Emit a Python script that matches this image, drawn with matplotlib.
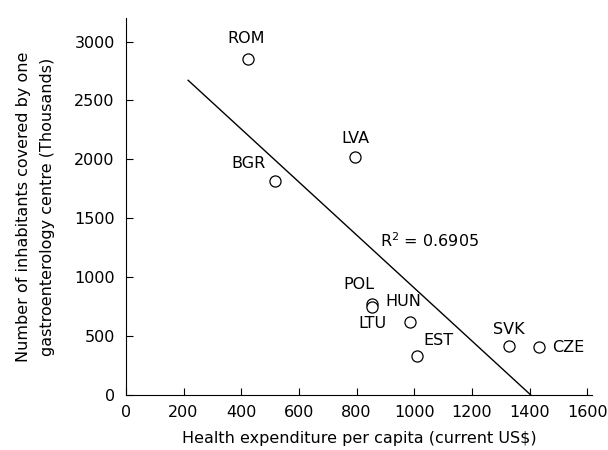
import numpy as np
import matplotlib.pyplot as plt

# data
countries = ['ROM', 'LVA', 'BGR', 'POL', 'HUN', 'LTU', 'EST', 'SVK', 'CZE']
health_exp = [422, 793, 517, 855, 855, 984, 1011, 1327, 1432]
inhabitants = [2853, 2017, 1816, 777, 748, 621, 330, 418, 409]
# label offsets in pixels
label_offsets = [(-1, 20), (1, 19), (-26, 18), (-14, 19), (31, 5),
                 (-37, -2), (21, 16), (0, 16), (29, -1)]
fit_x_start = 216
r2_text = 'R$^2$ = 0.6905'

plt.rcParams['font.family'] = 'DejaVu Sans'
fs = 11.5

fig = plt.figure(figsize=(6.08, 4.5), dpi=100)
ax = fig.add_axes([0.207, 0.122, 0.767, 0.838])

# regression line
b, a = np.polyfit(health_exp, inhabitants, 1)
x_end = -a / b
xs = np.array([fit_x_start, x_end])
ax.plot(xs, a + b * xs, color='black', lw=1.0, zorder=1)

ax.plot(health_exp, inhabitants, 'o', ms=8, mfc='white', mec='black',
        mew=0.9, zorder=2)

for name, x, y, off in zip(countries, health_exp, inhabitants, label_offsets):
    ax.annotate(name, (x, y), xytext=off, textcoords='offset pixels',
                ha='center', va='center', fontsize=fs)

ax.text(880, 1310, r2_text, fontsize=fs, ha='left', va='center')

ax.set_xlim(0, 1617)
ax.set_ylim(0, 3200)
ax.set_xticks(range(0, 1601, 200))
ax.set_yticks(range(0, 3001, 500))
ax.spines['top'].set_visible(False)
ax.spines['right'].set_visible(False)
ax.tick_params(direction='in', length=5, labelsize=fs)
ax.tick_params(axis='x', pad=7)
ax.tick_params(axis='y', pad=8)

ax.set_xlabel('Health expenditure per capita (current US$)', fontsize=fs, labelpad=8)
ax.set_ylabel('Number of inhabitants covered by one\ngastroenterology centre (Thousands)',
              fontsize=fs, labelpad=14, linespacing=1.75)

fig.savefig('out.png', dpi=100)
